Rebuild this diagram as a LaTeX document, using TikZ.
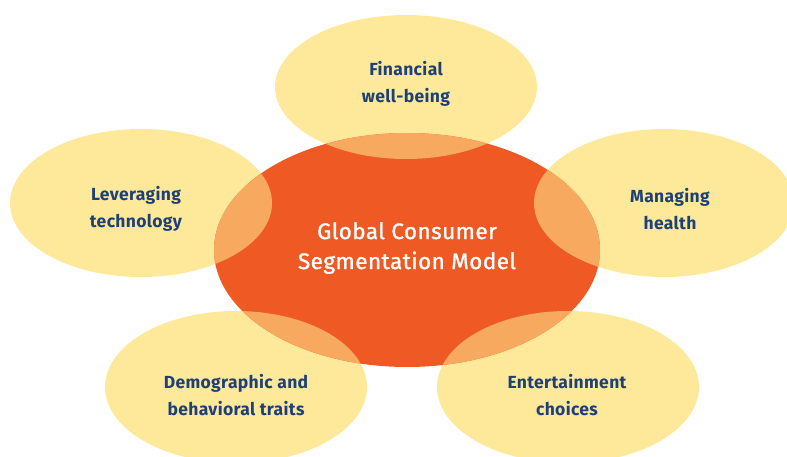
\documentclass[tikz,border=0pt]{standalone}
\usepackage{fontspec}
\setmainfont{Fira Sans}
\newfontfamily\labelfont{Fira Sans}[LetterSpace=2]
\newfontfamily\hubfont{Fira Sans}[LetterSpace=2,FakeBold=1.3]
\definecolor{hubfill}{RGB}{238,89,36}
\definecolor{petalfill}{RGB}{254,233,155}
\definecolor{overlapfill}{RGB}{247,169,96}
\definecolor{labelblue}{RGB}{30,64,120}
\tikzset{
  petallabel/.style={align=center, text=labelblue, font=\labelfont\bfseries\fontsize{17.5}{27}\selectfont},
  hublabel/.style={align=center, text=white, font=\hubfont\fontsize{22.5}{30}\selectfont},
}
% petal ellipses: centre and radii (pt, y downward)
\def\hub{(407,250) ellipse [x radius=193, y radius=117]}
\def\petalA{(406,87) ellipse [x radius=131, y radius=72]}
\def\petalB{(141,203) ellipse [x radius=131, y radius=74]}
\def\petalC{(664,203) ellipse [x radius=130, y radius=74]}
\def\petalD{(236,387) ellipse [x radius=131, y radius=76]}
\def\petalE{(568,387) ellipse [x radius=131, y radius=76]}
\begin{document}
\begin{tikzpicture}[x=1pt,y=-1pt]
\useasboundingbox (0,0) rectangle (787,457);
% petals
\foreach \p in {\petalA,\petalB,\petalC,\petalD,\petalE}
  \fill[petalfill] \p;
% hub
\fill[hubfill] \hub;
% lighter band where hub and petal overlap
\foreach \p in {\petalA,\petalB,\petalC,\petalD,\petalE}{
  \begin{scope}
    \clip \p;
    \fill[overlapfill] \hub;
  \end{scope}
}
% labels
\node[hublabel] (hub) at (407,248) {Global Consumer\\Segmentation Model};
\node[petallabel] (fin) at (406,84) {Financial\\well-being};
\node[petallabel] (tech) at (136,209) {Leveraging\\technology};
\node[petallabel] (health) at (670,209) {Managing\\health};
\node[petallabel] (demo) at (236,395) {Demographic and\\behavioral traits};
\node[petallabel] (ent) at (567,395) {Entertainment\\choices};
\end{tikzpicture}
\end{document}
